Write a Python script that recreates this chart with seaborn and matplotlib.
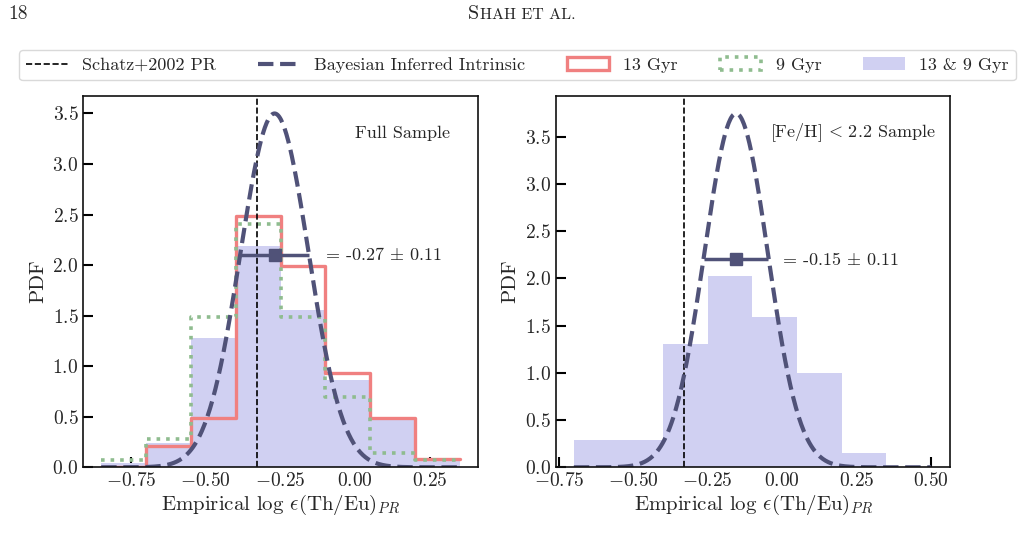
import numpy as np
import pandas as pd
import seaborn as sns
import matplotlib.pyplot as plt
from matplotlib.lines import Line2D
from matplotlib.patches import Patch

# --- Werte
edges_full = [-0.85, -0.70, -0.55, -0.40, -0.25, -0.10, 0.05, 0.20, 0.35]
pdf_13gyr = [0.0, 0.21, 0.49, 2.49, 1.99, 0.93, 0.49, 0.08]
pdf_9gyr = [0.07, 0.28, 1.49, 2.41, 1.49, 0.70, 0.145, 0.07]
pdf_both = [0.04, 0.24, 1.28, 2.19, 1.56, 0.86, 0.48, 0.08]

edges_low = [-0.70, -0.55, -0.40, -0.25, -0.10, 0.05, 0.20, 0.35]
pdf_low = [0.29, 0.29, 1.30, 2.03, 1.59, 1.00, 0.15]

mu_full, sig_full, bar_y_full = -0.27, 0.114, 2.10
mu_low, sig_low, bar_y_low = -0.155, 0.1065, 2.20
schatz_pr = -0.33

c_red = "#f08080"
c_green = "#8fbc8f"
c_blue = "#d0d0f2"
c_dark = "#505278"

sns.set_style("ticks")
plt.rcParams["font.family"] = ["cmr10", "DejaVu Serif"]
plt.rcParams["mathtext.fontset"] = "cm"
plt.rcParams["axes.formatter.use_mathtext"] = True
plt.rcParams["axes.unicode_minus"] = True


def hist_df(edges, vals):
    e = np.array(edges)
    return pd.DataFrame({"x": (e[:-1] + e[1:]) / 2, "w": vals})


def fmt(nd):
    # Mathtext-Label wie beim ScalarFormatter, damit das Minus richtig aussieht
    return plt.FuncFormatter(
        lambda v, p: r"$\mathdefault{%s}$" % f"{v:.{nd}f}".replace("-", "\u2212"))


def style_axes(ax, xticks, xlim, ylim):
    ax.set_xlim(xlim)
    ax.set_ylim(ylim)
    ax.set_xticks(xticks)
    ax.set_yticks(np.arange(0, 3.51, 0.5))
    ax.yaxis.set_major_formatter(fmt(1))
    ax.xaxis.set_major_formatter(fmt(2))
    ax.tick_params(direction="in", length=7, width=1.5, labelsize=14, color="k")
    for s in ax.spines.values():
        s.set_visible(True)
        s.set_linewidth(1.2)
        s.set_color("#111111")
    ax.set_xlabel(r"Empirical log $\epsilon$(Th/Eu)$_{PR}$", fontsize=15, labelpad=2)
    ax.set_ylabel("PDF", fontsize=15, labelpad=4)


fig = plt.figure(figsize=(10.22, 5.44), dpi=100)
ax1 = fig.add_axes([0.0815, 0.141, 0.386, 0.683])
ax2 = fig.add_axes([0.544, 0.141, 0.386, 0.683])

# --- Full Sample
d = hist_df(edges_full, pdf_both)
sns.histplot(data=d, x="x", weights="w", bins=edges_full, element="step",
             fill=True, color=c_blue, alpha=1, linewidth=0, ax=ax1)
d = hist_df(edges_full, pdf_13gyr)
sns.histplot(data=d, x="x", weights="w", bins=edges_full, element="step",
             fill=False, color=c_red, linewidth=2.4, ax=ax1)
d = hist_df(edges_full, pdf_9gyr)
sns.histplot(data=d, x="x", weights="w", bins=edges_full, element="step",
             fill=False, color=c_green, linewidth=2.6, linestyle=":", ax=ax1)
ax1.axvline(schatz_pr, color="k", ls="--", lw=1.2)
xs = np.linspace(edges_full[0], edges_full[-1], 400)
ys = np.exp(-0.5 * ((xs - mu_full) / sig_full) ** 2) / (sig_full * np.sqrt(2 * np.pi))
sns.lineplot(x=xs, y=ys, color=c_dark, lw=3, ls="--", ax=ax1)
ax1.errorbar(mu_full, bar_y_full, xerr=sig_full, fmt="s", color=c_dark, ms=8, lw=2.5)
ax1.text(-0.10, bar_y_full, r"= -0.27 $\pm$ 0.11", fontsize=13, va="center")
ax1.text(0.689, 0.90, "Full Sample", fontsize=13, va="center", transform=ax1.transAxes)
style_axes(ax1, np.arange(-0.75, 0.26, 0.25), (-0.91, 0.41), (0, 3.675))

# --- [Fe/H] < 2.2 Sample
d = hist_df(edges_low, pdf_low)
sns.histplot(data=d, x="x", weights="w", bins=edges_low, element="step",
             fill=True, color=c_blue, alpha=1, linewidth=0, ax=ax2)
ax2.axvline(schatz_pr, color="k", ls="--", lw=1.2)
xs = np.linspace(-0.70, 0.50, 400)
ys = np.exp(-0.5 * ((xs - mu_low) / sig_low) ** 2) / (sig_low * np.sqrt(2 * np.pi))
sns.lineplot(x=xs, y=ys, color=c_dark, lw=3, ls="--", ax=ax2)
ax2.errorbar(mu_low, bar_y_low, xerr=sig_low, fmt="s", color=c_dark, ms=8, lw=2.5)
ax2.text(0.0, bar_y_low, r"= -0.15 $\pm$ 0.11", fontsize=13, va="center")
ax2.text(0.963, 0.90, r"[Fe/H]$\,<\,$2.2 Sample", fontsize=13, va="center",
         ha="right", transform=ax2.transAxes)
style_axes(ax2, np.arange(-0.75, 0.51, 0.25), (-0.76, 0.565), (0, 3.933))

# --- Legende
handles = [
    Line2D([], [], color="k", ls="--", lw=1.2),
    Line2D([], [], color=c_dark, ls="--", lw=3),
    Patch(facecolor="none", edgecolor=c_red, lw=2.4),
    Patch(facecolor="none", edgecolor=c_green, lw=2.6, ls=":"),
    Patch(facecolor=c_blue, edgecolor="none"),
]
labels = ["Schatz+2002 PR", "Bayesian Inferred Intrinsic", "13 Gyr", "9 Gyr", "13 & 9 Gyr"]
leg = fig.legend(handles, labels, loc="upper left", ncol=5, mode="expand",
                 bbox_to_anchor=(0.0186, 0.5, 0.9755, 0.408), borderaxespad=0,
                 fontsize=13, handlelength=2.3, frameon=True, fancybox=True)
leg.get_frame().set_edgecolor("#d0d0d0")
leg.get_frame().set_linewidth(1.0)

# --- Kopfzeile
fig.text(0.008, 0.965, "18", fontsize=14, va="baseline")
fig.text(0.458, 0.965, "S", fontsize=14.5, va="baseline")
fig.text(0.4695, 0.965, "HAH ET AL.", fontsize=11.5, va="baseline")

fig.savefig("out.png", dpi=100)
